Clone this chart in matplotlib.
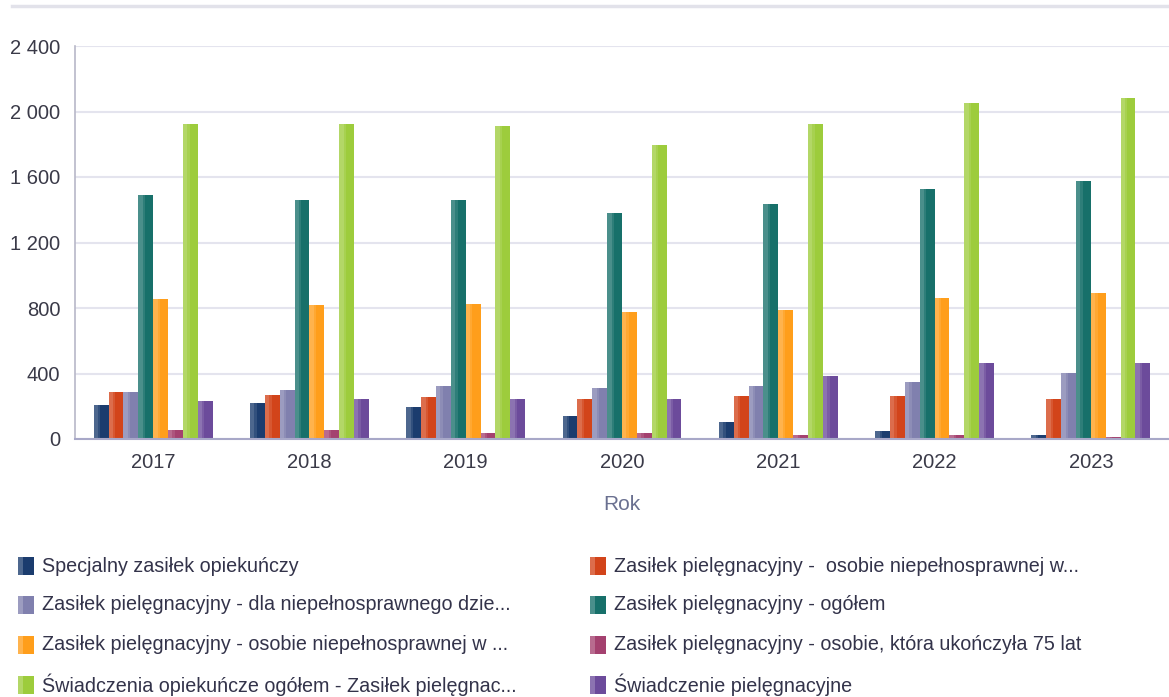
import matplotlib
matplotlib.use("Agg")
import matplotlib.pyplot as plt
import numpy as np
from matplotlib.patches import Rectangle
from matplotlib.lines import Line2D
from matplotlib.ticker import FuncFormatter

years = ["2017", "2018", "2019", "2020", "2021", "2022", "2023"]
series_names = [
    "Specjalny zasiłek opiekuńczy",
    "Zasiłek pielęgnacyjny -  osobie niepełnosprawnej w...",
    "Zasiłek pielęgnacyjny - dla niepełnosprawnego dzie...",
    "Zasiłek pielęgnacyjny - ogółem",
    "Zasiłek pielęgnacyjny - osobie niepełnosprawnej w ...",
    "Zasiłek pielęgnacyjny - osobie, która ukończyła 75 lat",
    "Świadczenia opiekuńcze ogółem - Zasiłek pielęgnac...",
    "Świadczenie pielęgnacyjne",
]
specjalny = [208, 220, 193, 140, 101, 49, 24]
zp_niepeln_w = [285, 271, 259, 244, 261, 261, 244]
zp_dziecko = [285, 297, 324, 309, 324, 346, 401]
zp_ogolem = [1488, 1462, 1462, 1382, 1433, 1525, 1578]
zp_niepeln_w2 = [853, 816, 827, 773, 788, 863, 894]
zp_75lat = [53, 53, 35, 35, 24, 24, 14]
swiadczenia_ogolem = [1926, 1925, 1912, 1795, 1926, 2054, 2080]
swiadczenie_piel = [232, 245, 244, 244, 387, 464, 466]
series_values = [specjalny, zp_niepeln_w, zp_dziecko, zp_ogolem,
                 zp_niepeln_w2, zp_75lat, swiadczenia_ogolem, swiadczenie_piel]
y_ticks = [0, 400, 800, 1200, 1600, 2000, 2400]

colors = ["#1B3C6E", "#D2441A", "#8080AE", "#17706A",
          "#FF9E1B", "#A4416F", "#9DCC3C", "#6C4B9B"]

FONT = ["Liberation Sans Narrow", "Liberation Sans", "DejaVu Sans"]
plt.rcParams["font.family"] = FONT

W, H = 1169, 697
fig = plt.figure(figsize=(W / 100, H / 100), dpi=100)
ax = fig.add_axes([75 / W, (H - 439) / H, (W - 75) / W, (439 - 46) / H])


def lighten(c, f):
    rgb = np.array(matplotlib.colors.to_rgb(c))
    return tuple(rgb + (1 - rgb) * f)


x = np.arange(len(years))
n = len(series_names)
group_w = 0.76
bw = group_w / n
for i, (vals, col) in enumerate(zip(series_values, colors)):
    pos = x - group_w / 2 + i * bw
    ax.bar(pos, vals, width=bw, align="edge", color=col, edgecolor="none", zorder=3)
    ax.bar(pos, vals, width=bw * 0.3, align="edge", color=lighten(col, 0.22),
           edgecolor="none", zorder=3)
    ax.bar(pos + bw * 0.3, vals, width=bw * 0.15, align="edge",
           color=lighten(col, 0.1), edgecolor="none", zorder=3)

ax.set_xlim(-0.5, len(years) - 0.5)
ax.set_ylim(0, 2400)
ax.set_yticks(y_ticks)
ax.yaxis.set_major_formatter(FuncFormatter(lambda v, p: f"{int(v):,}".replace(",", " ")))
ax.set_xticks(x)
ax.set_xticklabels(years)
ax.tick_params(axis="both", length=0, labelsize=14.5, colors="#3A3A48")
ax.tick_params(axis="y", pad=10.5)
ax.tick_params(axis="x", pad=10)
ax.grid(axis="y", color="#E4E4EE", linewidth=1.5, zorder=0)
ax.set_axisbelow(True)
for s in ["top", "right"]:
    ax.spines[s].set_visible(False)
ax.spines["left"].set_color("#B8B8C8")
ax.spines["left"].set_linewidth(1.2)
ax.spines["bottom"].set_color("#A8A8C8")
ax.spines["bottom"].set_linewidth(1.5)
ax.spines["bottom"].set_zorder(4)
ax.set_xlabel("Rok", fontsize=15, color="#6A7090", labelpad=17)

# top separator line
fig.add_artist(Line2D([12 / W, 1.0], [(H - 6) / H] * 2, color="#E2E2EA", linewidth=2.5,
                      transform=fig.transFigure))

# legend
rows_y = [566, 605, 645, 685]
col_x = [18, 590]
for i, (name, col) in enumerate(zip(series_names, colors)):
    r, c = i // 2, i % 2
    xp, yp = col_x[c], rows_y[r]
    fig.add_artist(Rectangle((xp / W, (H - yp - 9) / H), 16 / W, 18 / H,
                             facecolor=col, edgecolor="none", transform=fig.transFigure))
    fig.add_artist(Rectangle((xp / W, (H - yp - 9) / H), 5 / W, 18 / H,
                             facecolor=lighten(col, 0.22), edgecolor="none",
                             transform=fig.transFigure))
    fig.text((xp + 24) / W, (H - yp) / H, name, fontsize=14.2, color="#33334A",
             va="center", ha="left")

fig.savefig("out.png", dpi=100)
